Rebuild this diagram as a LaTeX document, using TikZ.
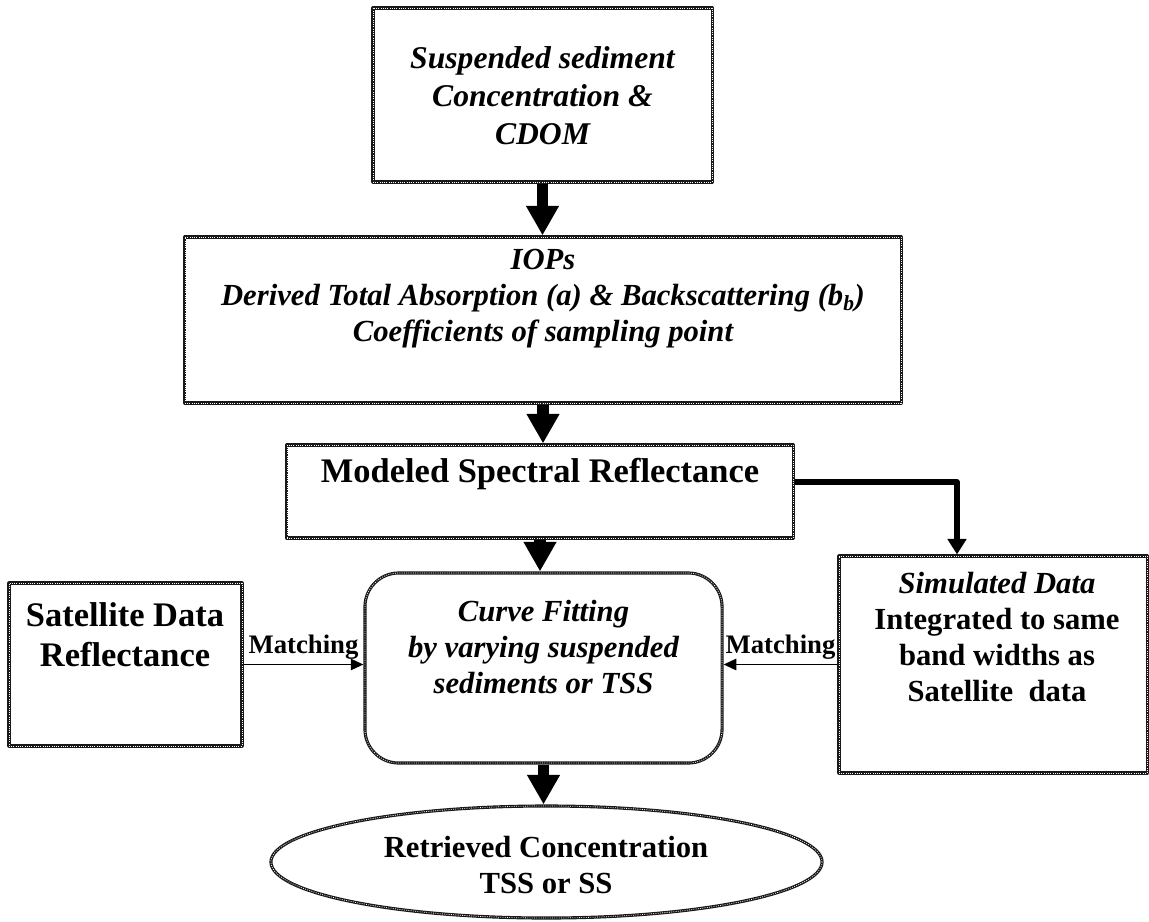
\documentclass[tikz,border=0pt]{standalone}
\usepackage{fontspec}
\setmainfont{Liberation Serif}
\usetikzlibrary{arrows.meta,positioning,shapes.geometric}

\begin{document}
\begin{tikzpicture}[x=0.025cm,y=-0.025cm,line join=round,
	frame/.style={draw=black!90,line width=2.2pt,
		postaction={draw=white,line width=0.55pt,dash pattern=on 0.6pt off 1pt}},
	box/.style={frame,rectangle,inner sep=0pt},
	txt/.style={align=center,inner sep=0pt,font=\fontsize{21.8}{25.6}\selectfont\bfseries},
	big/.style={align=center,inner sep=0pt,font=\fontsize{24.5}{28.5}\selectfont\bfseries},
	fat/.style={-{Triangle[width=22pt,length=21pt]},line width=8.5pt},
	mid/.style={-{Triangle[width=13pt,length=11pt]},line width=4pt},
	thin/.style={-{Triangle[width=8pt,length=9pt]},line width=1.4pt}]
	\useasboundingbox (0,0) rectangle (1149,921);
	% boxes
	\node[box,minimum width=8.475cm,minimum height=4.35cm] (ssc) at (542.5,95) {};
	\node[box,minimum width=17.9cm,minimum height=4.15cm] (iop) at (543,320) {};
	\node[box,minimum width=12.65cm,minimum height=2.325cm] (model) at (540,491.5) {};
	\node[box,rounded corners=24pt,minimum width=8.925cm,minimum height=4.75cm] (fit) at (543.5,668) {};
	\node[box,minimum width=5.825cm,minimum height=4.075cm] (sat) at (125.5,664.5) {};
	\node[box,minimum width=7.7cm,minimum height=5.425cm] (sim) at (993,664.5) {};
	\node[frame,ellipse,inner sep=0pt,minimum width=13.775cm,minimum height=2.8cm] (ret) at (546.5,862) {};
	% texts
	\node[txt,font=\fontsize{22.5}{27}\selectfont\bfseries\itshape] (t1) at (542.5,96)
		{Suspended sediment\\Concentration \&\\CDOM};
	\node[txt,font=\fontsize{21.8}{25.6}\selectfont\bfseries\itshape] (t2) at (543,299)
		{IOPs\\Derived Total Absorption (a) \& Backscattering (b\textsubscript{b})\\Coefficients of sampling point};
	\node[big] (t3) at (540,474) {Modeled Spectral Reflectance};
	\node[txt,font=\fontsize{21.8}{25.6}\selectfont\bfseries\itshape] (t4) at (543.5,647)
		{Curve Fitting\\by varying suspended\\sediments or TSS};
	\node[big] (t5) at (125,635) {Satellite Data\\Reflectance};
	\node[txt] (t6) at (997,637.5) {{\itshape Simulated Data}\\Integrated to same\\band widths as\\Satellite\ \ data};
	\node[txt] (t7) at (546,865) {Retrieved Concentration\\TSS or SS};
	% arrows
	\coordinate (bend) at (957,482);
	\draw[fat] (ssc.south) -- (ssc.south |- iop.north);
	\draw[fat] (iop.south) -- (iop.south |- model.north);
	\draw[fat] (model.south) -- (model.south |- fit.north);
	\draw[fat] (fit.south) -- (fit.south |- ret.north);
	\draw[mid] (model.east |- bend) -- (bend) -- (bend |- sim.north);
	\draw[thin] (sat.east) -- (sat.east -| fit.west)
		node[midway,above=3pt,inner sep=0pt,font=\fontsize{19}{22}\selectfont\bfseries] (m1) {Matching};
	\draw[thin] (sim.west) -- (sim.west -| fit.east)
		node[midway,above=3pt,inner sep=0pt,font=\fontsize{19}{22}\selectfont\bfseries] (m2) {Matching};
\end{tikzpicture}
\end{document}
